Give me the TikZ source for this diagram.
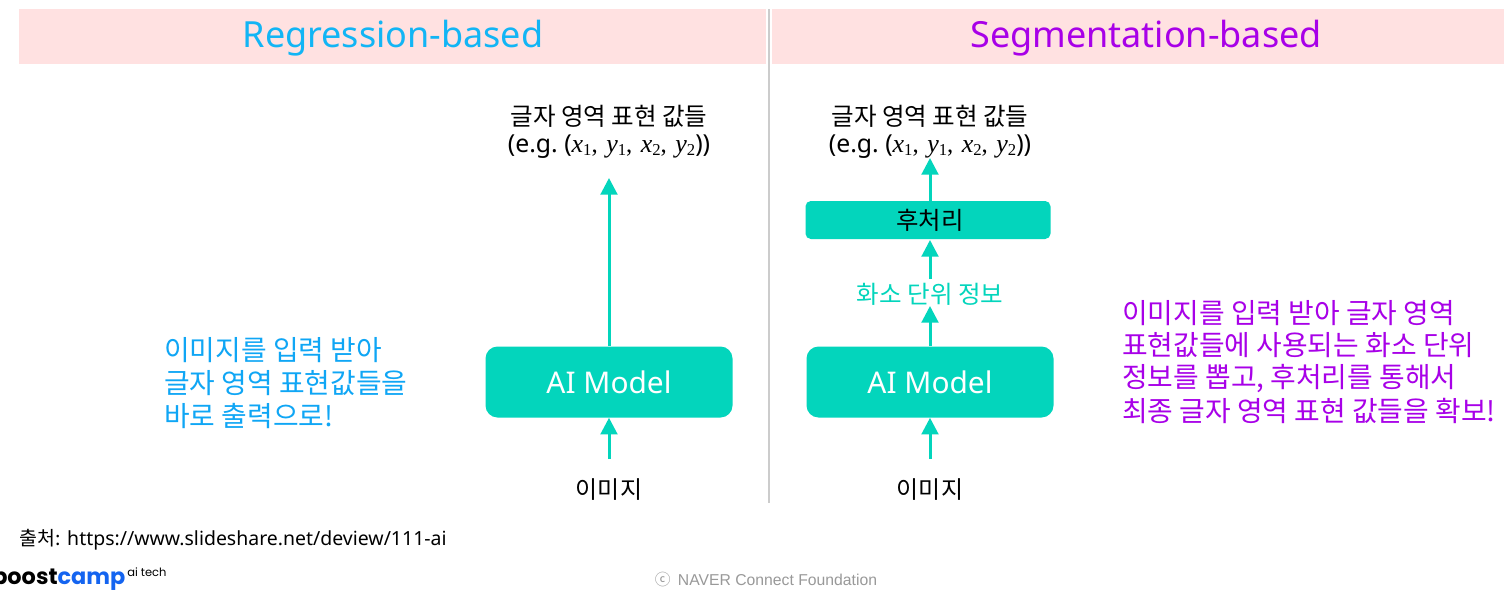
\documentclass[tikz,border=0pt]{standalone}
\usepackage{fontspec}
\usetikzlibrary{arrows.meta}
\setmainfont{Noto Sans}
\newfontfamily\kr{Noto Sans CJK KR}
\newfontfamily\mathf{Liberation Serif}
\newfontfamily\pop{Poppins}
\newfontfamily\lib{Liberation Sans}
\definecolor{teal1}{HTML}{03D5BC}
\definecolor{pinkbar}{HTML}{FFE1E1}
\definecolor{bluet}{HTML}{12B5F5}
\definecolor{blueb}{HTML}{0FA6F5}
\definecolor{purp}{HTML}{A800E8}
\definecolor{logob}{HTML}{1464F0}
\newcommand{\fs}[1]{\fontsize{#1}{#1}\selectfont}
\newcommand{\sbx}[1]{\raisebox{-2.6pt}{\mathf\fs{12.5}#1}}
\newcommand{\vals}{{\mathf\fs{19.5}\itshape x}\sbx{1}{\mathf,\hspace{1.5pt}\itshape\fs{19.5} y}\sbx{1}{\mathf,\hspace{1.5pt}\itshape\fs{19.5} x}\sbx{2}{\mathf,\hspace{1.5pt}\itshape\fs{19.5} y}\sbx{2}}
\tikzset{
  x=0.75pt,y=-0.75pt,
  title/.style={font=\fs{27}},
  modelbox/.style={fill=teal1,draw=none,rounded corners=9pt,minimum width=185.25pt,minimum height=53.25pt,inner sep=0pt,text=white,font=\fs{22.4}},
  postbox/.style={fill=teal1,draw=none,rounded corners=4pt,minimum width=183.75pt,minimum height=28.5pt,inner sep=0pt,text=black,font=\kr\fs{18.3}},
  lab/.style={text=black,font=\kr\fs{18.4},inner sep=0pt,align=center},
  imglab/.style={text=black,font=\kr\fs{18},inner sep=0pt},
  flow/.style={teal1,line width=2.25pt,-{Triangle[length=12.5pt,width=12.5pt]}},
  say/.style={anchor=west,align=left,inner sep=0pt,font=\kr\fs{20.9}},
}
\begin{document}
\begin{tikzpicture}
\useasboundingbox (0,0) rectangle (1504,596);
\clip (0,0) rectangle (1504,596);
\fill[white] (0,0) rectangle (1504,596);
\fill[pinkbar] (19,9) rectangle (766,64);
\fill[pinkbar] (772,9) rectangle (1504,64);
\coordinate (divtop) at (769,9);
\coordinate (divbot) at (769,503);
\draw[gray!40,line width=1pt] (divtop) -- (divbot);
\node[title,text=bluet,inner sep=0pt] (t1) at (393,38) {Regression-based};
\node[title,text=purp,inner sep=0pt] (t2) at (1146,38) {Segmentation-based};

% left
\node[lab] (o1) at (609,132) {글자 영역 표현 값들\\[1.5pt]{\normalfont\fs{18.6}(e.g.~(\vals))}};
\node[modelbox] (m1) at (609,382) {AI Model};
\node[imglab] (i1) at (609,490) {이미지};
\coordinate (i1t) at (609,459);
\coordinate (o1b) at (609,178);
\draw[flow] (i1t) -- (m1.south);
\draw[flow] (m1.north) -- (o1b);
\node[say,text=blueb] (s1) at (164,383) {이미지를 입력 받아\\[3.8pt]글자 영역 표현값들을\\[3.8pt]바로 출력으로!};

% right
\node[lab] (o2) at (930,132) {글자 영역 표현 값들\\[1.5pt]{\normalfont\fs{18.6}(e.g.~(\vals))}};
\node[postbox] (p2) at (928,220) {\hspace*{3pt}후처리};
\node[text=teal1,font=\kr\fs{18.4},inner sep=0pt] (h2) at (930,294) {화소 단위 정보};
\node[modelbox] (m2) at (930,382) {AI Model};
\node[imglab] (i2) at (930,490) {이미지};
\coordinate (i2t) at (930,459);
\coordinate (o2b) at (930,158);
\coordinate (p2t) at (930,201);
\coordinate (p2b) at (930,240);
\coordinate (h2b) at (930,279);
\coordinate (h2t) at (930,306);
\draw[flow] (i2t) -- (m2.south);
\draw[flow] (m2.north) -- (h2t);
\draw[flow] (h2b) -- (p2b);
\draw[flow] (p2t) -- (o2b);
\node[say,text=purp] (s2) at (1122,362) {이미지를 입력 받아 글자 영역\\[3.2pt]표현값들에 사용되는 화소 단위\\[3.2pt]정보를 뽑고, 후처리를 통해서\\[3.2pt]최종 글자 영역 표현 값들을 확보!};

% footer
\node[anchor=west,inner sep=0pt,font=\fs{14.6}] (src) at (19,540) {{\kr 출처:} https://www.slideshare.net/deview/111-ai};
\node[anchor=base west,inner sep=0pt,font=\pop\bfseries\fs{16.8}] (logo) at (-8,584) {boost\textcolor{logob}{camp}};
\node[anchor=base west,inner sep=0pt,font=\pop\fs{8.6}] (aitech) at (127,576) {ai tech};
\node[anchor=center,inner sep=0pt,text=gray!80,font=\lib\fs{11.8}] (cr) at (766,579.5) {{\kr ⓒ}\hspace{5.5pt}NAVER Connect Foundation};
\end{tikzpicture}
\end{document}
